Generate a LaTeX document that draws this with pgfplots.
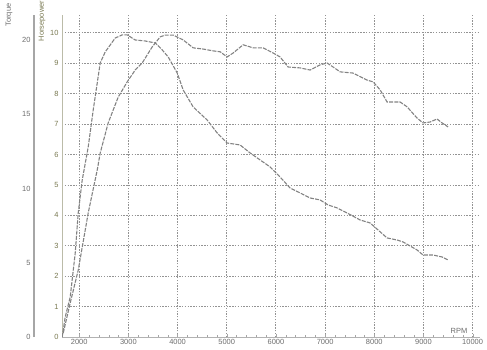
\documentclass[border=0pt]{standalone}
\usepackage{pgfplots}
\pgfplotsset{compat=1.18}
\usepackage{fontspec}
\setmainfont{Liberation Sans}
\definecolor{olivegray}{RGB}{120,120,80}
\definecolor{curvegray}{RGB}{130,130,130}
\begin{document}
\begin{tikzpicture}[x=1bp,y=1bp]
\useasboundingbox (0,0) rectangle (487,349);
% Horsepower axis
\begin{axis}[
  at={(62bp,12bp)}, anchor=south west, scale only axis,
  width=418bp, height=322bp,
  xmin=1650, xmax=10150, ymin=0, ymax=10.59,
  axis x line*=bottom, axis y line*=left,
  x axis line style={gray!60, -},
  y axis line style={olivegray!50, line width=0.8pt, -},
  xtick={2000,3000,...,10000}, minor x tick num=4,
  scaled x ticks=false,
  ytick={0,1,...,10},
  major tick length=3bp, minor tick length=2bp,
  tick style={gray!70},
  ytick style={draw=none},
  grid=major,
  major grid style={dash pattern=on 1.4pt off 1.4pt, gray!85, line width=0.9pt},
  /pgf/number format/assume math mode=true,
  /pgf/number format/1000 sep={},
  tick label style={font=\fontsize{7.5}{8}\selectfont, text=gray!85!black},
  xticklabel style={yshift=1bp},
  yticklabel style={text=olivegray},
  clip=false,
]
\addplot[curvegray, line width=1.1pt, dash pattern=on 4pt off 1.2pt] coordinates {
(1675,0.13) (1817,1.12) (1980,2.20) (2183,4.08) (2366,5.49) (2427,6.05)
(2589,7.04) (2793,7.89) (2976,8.39) (3138,8.78) (3280,9.01) (3484,9.54)
(3646,9.87) (3748,9.93) (3911,9.93) (4114,9.77) (4317,9.51) (4520,9.47)
(4724,9.41) (4866,9.38) (5008,9.21) (5130,9.34) (5333,9.61) (5537,9.51)
(5740,9.51) (5943,9.34) (6085,9.21) (6248,8.88) (6492,8.85) (6695,8.78)
(6898,8.95) (7041,9.01) (7163,8.88) (7305,8.72) (7569,8.68) (7854,8.45)
(7976,8.39) (8118,8.13) (8260,7.73) (8524,7.73) (8667,7.57) (8870,7.20)
(8992,7.04) (9134,7.07) (9276,7.17) (9378,7.04) (9500,6.91)
};
\end{axis}
% Torque curve (same x mapping, torque scale)
\begin{axis}[
  at={(62bp,12bp)}, anchor=south west, scale only axis,
  width=418bp, height=322bp,
  xmin=1650, xmax=10150, ymin=0, ymax=21.68,
  hide axis,
]
\addplot[curvegray, line width=1.1pt, dash pattern=on 4pt off 1.2pt] coordinates {
(1654,0) (1715,1.35) (1817,2.69) (1919,5.66) (1980,8.35) (2061,10.57)
(2183,12.79) (2285,15.29) (2427,18.45) (2528,19.19) (2732,20.13) (2874,20.34)
(2976,20.34) (3138,20.00) (3341,19.93) (3545,19.80) (3687,19.33) (3809,18.86)
(3992,17.78) (4114,16.63) (4317,15.49) (4602,14.61) (4805,13.74) (5008,13.06)
(5272,12.93) (5476,12.39) (5679,11.92) (5882,11.45) (6085,10.77) (6289,10.03)
(6492,9.70) (6695,9.36) (6898,9.23) (7061,8.89) (7244,8.69) (7447,8.35)
(7711,7.88) (7915,7.68) (8260,6.67) (8463,6.53) (8585,6.40) (8870,5.86)
(8992,5.52) (9195,5.52) (9378,5.39) (9500,5.19)
};
\end{axis}
% Torque scale axis
\begin{axis}[
  at={(34bp,12bp)}, anchor=south west, scale only axis,
  width=1bp, height=322bp,
  xmin=0, xmax=1, ymin=0, ymax=21.68,
  axis y line=left, axis x line=none,
  y axis line style={gray!70, line width=2pt, -},
  ytick={0,5,10,15,20},
  major tick length=0pt,
  /pgf/number format/assume math mode=true,
  tick label style={font=\fontsize{7.5}{8}\selectfont, text=gray!85!black},
]
\addplot[draw=none] coordinates {(0,0)};
\end{axis}
\node[rotate=90, anchor=center, font=\fontsize{7.5}{8}\selectfont, text=gray!85!black] at (9,334) {Torque};
\node[rotate=90, anchor=center, font=\fontsize{7.5}{8}\selectfont, text=olivegray] at (42,328) {Horsepower};
\node[anchor=center, font=\fontsize{7.5}{8}\selectfont, text=gray!85!black] at (459,18) {RPM};
\end{tikzpicture}
\end{document}
